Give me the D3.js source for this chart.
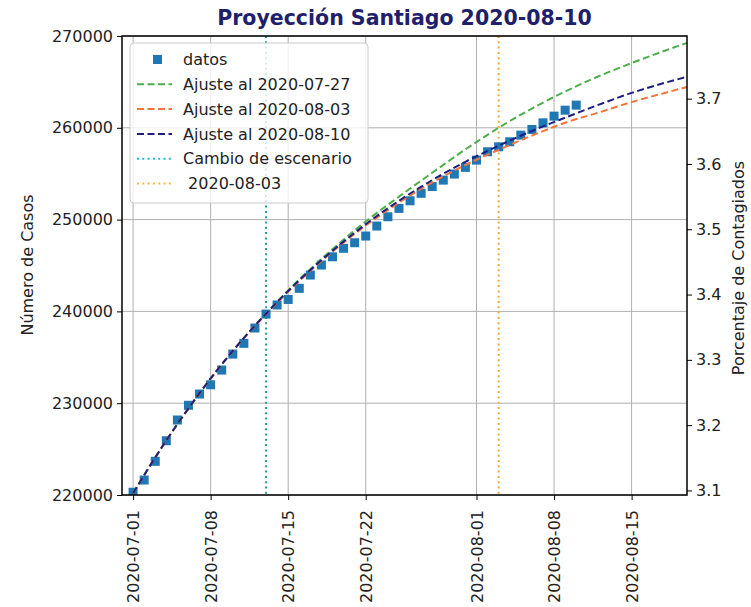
<!DOCTYPE html>
<html>
<head>
<meta charset="utf-8">
<script src="https://cdn.jsdelivr.net/npm/d3@7"></script>
<style>
body{margin:0;background:#fff;}
text{font-family:"DejaVu Sans",sans-serif;}
</style>
</head>
<body>
<svg id="graph"></svg>
<script>
// datos diarios (casos acumulados)
var fechasDatos = ["07-01","07-02","07-03","07-04","07-05","07-06","07-07","07-08","07-09","07-10",
  "07-11","07-12","07-13","07-14","07-15","07-16","07-17","07-18","07-19","07-20",
  "07-21","07-22","07-23","07-24","07-25","07-26","07-27","07-28","07-29","07-30",
  "07-31","08-01","08-02","08-03","08-04","08-05","08-06","08-07","08-08","08-09","08-10"]
var casos = [220300,221630,223670,225910,228170,229770,231000,232010,233610,235350,
  236520,238190,239710,240700,241300,242510,243960,245050,245950,246870,
  247480,248210,249300,250310,251220,252050,252860,253600,254300,254960,
  255690,256480,257390,257930,258480,259200,259820,260540,261270,261920,262470]

// curvas de ajuste
var fechasAjuste = ["07-01","07-04","07-07","07-10","07-13","07-16","07-19","07-22","07-25",
  "07-28","07-31","08-03","08-06","08-09","08-12","08-15","08-18","08-20"]
var ajuste0727 = [220200,225920,231050,235680,239780,243480,246780,249800,252500,
  255100,257650,260000,262100,263950,265600,267050,268400,269250]
var ajuste0803 = [220200,225950,231100,235700,239700,243300,246500,249350,251850,
  254050,255950,257600,259150,260550,261650,262800,263800,264450]
var ajuste0810 = [220200,225950,231100,235700,239750,243400,246600,249500,252050,
  254300,256300,258050,259650,261100,262500,263800,264900,265550]

var cambioEscenario = "07-13"
var fechaCorte = "08-03"
var poblacion = 7112808

var ticksCasos = [220000,230000,240000,250000,260000,270000]
var ticksPorc = [3.1,3.2,3.3,3.4,3.5,3.6,3.7]
var ticksFechas = ["07-01","07-08","07-15","07-22","08-01","08-08","08-15"]

var parse = function(s){ return d3.timeParse("%Y-%m-%d")("2020-" + s) }

var W = 751, H = 607
var m = {left:122, right:687, top:36, bottom:495}

var svg = d3.select("#graph").attr("width", W).attr("height", H)
svg.append("rect").attr("width", W).attr("height", H).attr("fill", "#fff")

var xScale = d3.scaleTime()
  .domain([parse("06-30"), parse("08-20")])
  .range([m.left, m.right])
var yScale = d3.scaleLinear().domain([220000, 270000]).range([m.bottom, m.top])
var y2Scale = d3.scaleLinear()
  .domain([220000/poblacion*100, 270000/poblacion*100])
  .range([m.bottom, m.top])

// grilla
var grid = svg.append("g")
grid.selectAll("line.v").data(ticksFechas).enter().append("line")
  .attr("x1", function(d){return xScale(parse(d))}).attr("x2", function(d){return xScale(parse(d))})
  .attr("y1", m.top).attr("y2", m.bottom)
  .attr("stroke", "#b0b0b0").attr("stroke-width", 1)
grid.selectAll("line.h").data(ticksCasos).enter().append("line")
  .attr("x1", m.left).attr("x2", m.right)
  .attr("y1", function(d){return yScale(d)}).attr("y2", function(d){return yScale(d)})
  .attr("stroke", "#b0b0b0").attr("stroke-width", 1)

var plot = svg.append("g")
svg.append("clipPath").attr("id", "clip").append("rect")
  .attr("x", m.left).attr("y", m.top).attr("width", m.right - m.left).attr("height", m.bottom - m.top)
plot.attr("clip-path", "url(#clip)")

// lineas verticales
plot.append("line")
  .attr("x1", xScale(parse(cambioEscenario))).attr("x2", xScale(parse(cambioEscenario)))
  .attr("y1", m.top).attr("y2", m.bottom)
  .attr("stroke", "#1aa39c").attr("stroke-width", 2).attr("stroke-dasharray", "2,3.3")
plot.append("line")
  .attr("x1", xScale(parse(fechaCorte))).attr("x2", xScale(parse(fechaCorte)))
  .attr("y1", m.top).attr("y2", m.bottom)
  .attr("stroke", "#f7a934").attr("stroke-width", 2).attr("stroke-dasharray", "2,3.3")

// puntos
plot.selectAll("rect.dato").data(casos).enter().append("rect")
  .attr("x", function(d, i){return xScale(parse(fechasDatos[i])) - 4.5})
  .attr("y", function(d){return yScale(d) - 4.5})
  .attr("width", 9).attr("height", 9)
  .attr("fill", "#1f77b4")

var line = d3.line()
  .x(function(d){return xScale(parse(d[0]))})
  .y(function(d){return yScale(d[1])})
  .curve(d3.curveMonotoneX)

var series = [
  {vals: ajuste0727, color: "#4daf4a", label: "Ajuste al 2020-07-27"},
  {vals: ajuste0803, color: "#f4743b", label: "Ajuste al 2020-08-03"},
  {vals: ajuste0810, color: "#1e1e82", label: "Ajuste al 2020-08-10"}
]
series.forEach(function(s){
  plot.append("path")
    .datum(fechasAjuste.map(function(f, i){return [f, s.vals[i]]}))
    .attr("d", line)
    .attr("fill", "none").attr("stroke", s.color).attr("stroke-width", 2)
    .attr("stroke-dasharray", "7,3.5")
})

// ejes
var fmtFecha = d3.timeFormat("%Y-%m-%d")
var xAxis = d3.axisBottom(xScale).tickValues(ticksFechas.map(parse)).tickFormat(fmtFecha).tickSize(5).tickPadding(4)
var gx = svg.append("g").attr("transform", "translate(0," + m.bottom + ")").call(xAxis)
gx.selectAll("text")
  .attr("transform", "rotate(-90)")
  .attr("x", -15).attr("y", 0).attr("dy", "0.35em")
  .style("text-anchor", "end")

var yAxis = d3.axisLeft(yScale).tickValues(ticksCasos).tickFormat(d3.format("d")).tickSize(5).tickPadding(4)
var gy = svg.append("g").attr("transform", "translate(" + m.left + ",0)").call(yAxis)

var y2Axis = d3.axisRight(y2Scale).tickValues(ticksPorc).tickFormat(d3.format(".1f")).tickSize(5).tickPadding(4)
var gy2 = svg.append("g").attr("transform", "translate(" + m.right + ",0)").call(y2Axis)

;[gx, gy, gy2].forEach(function(g){
  g.select(".domain").remove()
  g.selectAll("text").attr("font-size", 16).attr("fill", "#222").style("font-family", "DejaVu Sans")
  g.selectAll("line").attr("stroke", "#000")
})

// marco
svg.append("rect")
  .attr("x", m.left).attr("y", m.top).attr("width", m.right - m.left).attr("height", m.bottom - m.top)
  .attr("fill", "none").attr("stroke", "#000").attr("stroke-width", 1.5)

// titulos
svg.append("text").attr("x", (m.left + m.right)/2).attr("y", 25)
  .attr("text-anchor", "middle").attr("font-size", 20.5).attr("font-weight", "bold")
  .attr("fill", "#1f1f6b").text("Proyección Santiago 2020-08-10")
svg.append("text").attr("transform", "translate(33,265) rotate(-90)")
  .attr("text-anchor", "middle").attr("font-size", 16).attr("fill", "#222").text("Número de Casos")
svg.append("text").attr("transform", "translate(744,268) rotate(-90)")
  .attr("text-anchor", "middle").attr("font-size", 16).attr("fill", "#222").text("Porcentaje de Contagiados")

// leyenda
var lg = svg.append("g").attr("transform", "translate(130,43)")
lg.append("rect").attr("width", 238).attr("height", 160).attr("rx", 4)
  .attr("fill", "#fff").attr("fill-opacity", 0.8).attr("stroke", "#cccccc")
var items = [
  {tipo: "sq", color: "#1f77b4", label: "datos"},
  {tipo: "dash", color: series[0].color, label: series[0].label},
  {tipo: "dash", color: series[1].color, label: series[1].label},
  {tipo: "dash", color: series[2].color, label: series[2].label},
  {tipo: "dot", color: "#17becf", label: "Cambio de escenario"},
  {tipo: "dot", color: "#ffb347", label: " 2020-08-03"}
]
items.forEach(function(it, i){
  var yy = 16.5 + i*24.8
  if (it.tipo == "sq") {
    lg.append("rect").attr("x", 23).attr("y", yy - 4.5).attr("width", 9).attr("height", 9).attr("fill", it.color)
  } else {
    lg.append("line").attr("x1", 7).attr("x2", 42).attr("y1", yy).attr("y2", yy)
      .attr("stroke", it.color).attr("stroke-width", 2)
      .attr("stroke-dasharray", it.tipo == "dash" ? "7,3.5" : "2,3.3")
  }
  lg.append("text").attr("x", 53).attr("y", yy).attr("dy", "0.35em")
    .attr("font-size", 16).attr("fill", "#222").style("white-space", "pre").text(it.label)
})
</script>
</body>
</html>
